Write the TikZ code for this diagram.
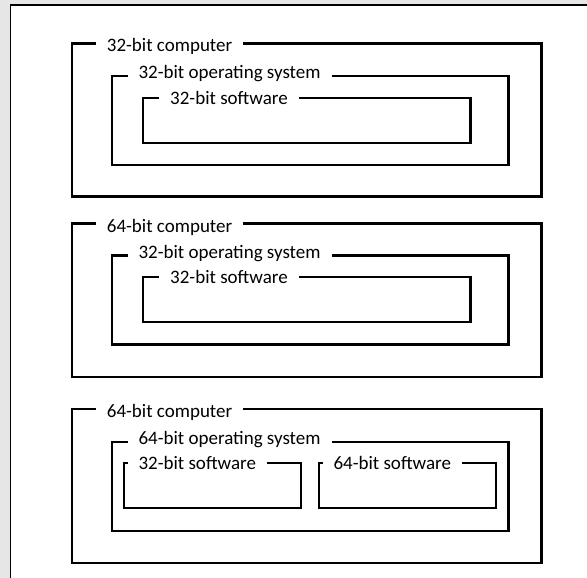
\documentclass[tikz,border=0pt]{standalone}
\usepackage{fontspec}
\setmainfont{Carlito}
\usetikzlibrary{calc}
\definecolor{wingray}{RGB}{230,230,230}
\tikzset{
	frame/.style={line width=2.2pt},
	tag/.style={fill=white, inner xsep=11pt, inner ysep=1pt, anchor=base west, font=\fontsize{19}{22}\selectfont},
}

\begin{document}
\begin{tikzpicture}[x=1pt, y=-1pt]
	\useasboundingbox (0,0) rectangle (587,578);
	\fill[wingray] (0,0) rectangle (587,578);
	\fill[white] (10.5,5.2) rectangle (587,578);
	\draw[line width=1.5pt] (10.5,578) -- (10.5,5.2) -- (587,5.2);
	
	\coordinate (C1) at (72,43.5);		\coordinate (C1e) at (541.5,196.5);
	\coordinate (O1) at (111.7,76);		\coordinate (O1e) at (508.5,165);
	\coordinate (S1) at (143.3,98.3);	\coordinate (S1e) at (470.5,143.3);
	
	\coordinate (C2) at (72,223.5);		\coordinate (C2e) at (541.5,376.7);
	\coordinate (O2) at (111.7,255.5);	\coordinate (O2e) at (508.5,344.5);
	\coordinate (S2) at (143.3,277.3);	\coordinate (S2e) at (470.5,322);
	
	\coordinate (C3) at (72,409.3);		\coordinate (C3e) at (541.5,563);
	\coordinate (O3) at (111.7,441.7);	\coordinate (O3e) at (508.5,531);
	\coordinate (S3) at (124,463.3);	\coordinate (S3e) at (301,508.3);
	\coordinate (S4) at (319,463.3);	\coordinate (S4e) at (496,508.3);
	
	\draw[frame] (C1) rectangle (C1e);
	\draw[frame] (O1) rectangle (O1e);
	\draw[frame] (S1) rectangle (S1e);
	\draw[frame] (C2) rectangle (C2e);
	\draw[frame] (O2) rectangle (O2e);
	\draw[frame] (S2) rectangle (S2e);
	\draw[frame] (C3) rectangle (C3e);
	\draw[frame] (O3) rectangle (O3e);
	\draw[frame] (S3) rectangle (S3e);
	\draw[frame] (S4) rectangle (S4e);
	
	\node[tag] (C1t) at ($(C1)+(23.7,8.5)$) {32-bit computer};
	\node[tag] (O1t) at ($(O1)+(15.6,2.5)$) {32-bit operating system};
	\node[tag] (S1t) at ($(S1)+(15.7,6)$) {32-bit software};
	
	\node[tag] (C2t) at ($(C2)+(23.7,8.5)$) {64-bit computer};
	\node[tag] (O2t) at ($(O2)+(15.6,2.5)$) {32-bit operating system};
	\node[tag] (S2t) at ($(S2)+(15.7,6)$) {32-bit software};
	
	\node[tag] (C3t) at ($(C3)+(23.7,8.5)$) {64-bit computer};
	\node[tag] (O3t) at ($(O3)+(15.6,2.5)$) {64-bit operating system};
	\node[tag] (S3t) at ($(S3)+(3.3,6)$) {32-bit software\hspace{6pt}};
	\node[tag] (S4t) at ($(S4)+(3.3,6)$) {64-bit software\hspace{6pt}};
\end{tikzpicture}
\end{document}
